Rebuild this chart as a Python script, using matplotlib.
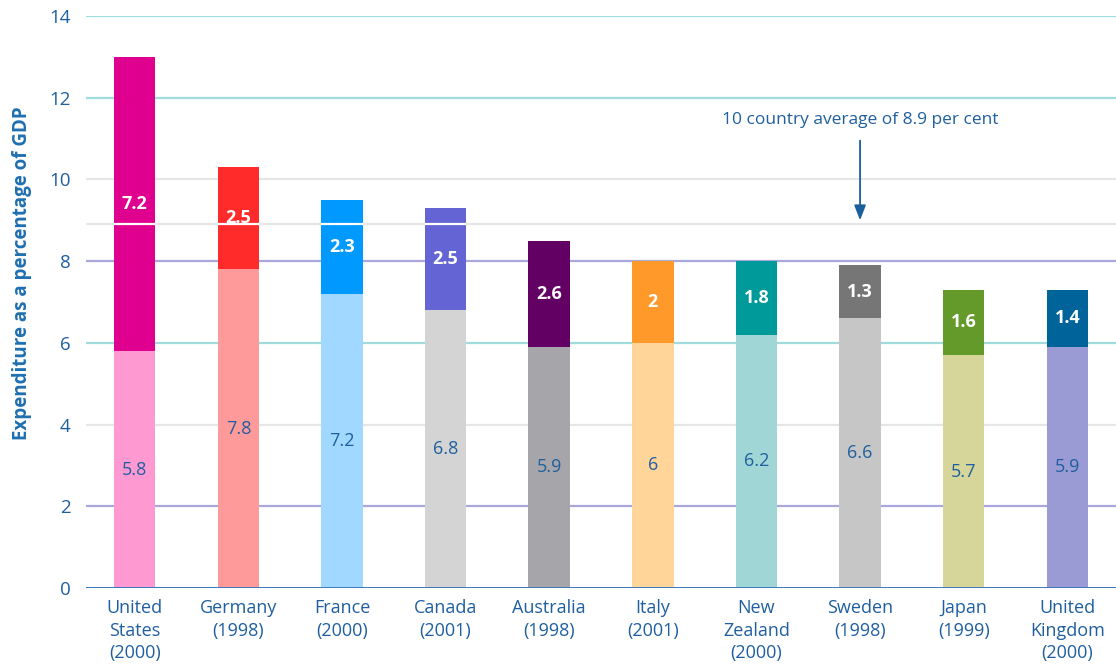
import matplotlib
matplotlib.use("Agg")
import matplotlib.pyplot as plt
import numpy as np

countries = ["United\nStates\n(2000)", "Germany\n(1998)", "France\n(2000)", "Canada\n(2001)",
             "Australia\n(1998)", "Italy\n(2001)", "New\nZealand\n(2000)", "Sweden\n(1998)",
             "Japan\n(1999)", "United\nKingdom\n(2000)"]
lower_values = [5.8, 7.8, 7.2, 6.8, 5.9, 6, 6.2, 6.6, 5.7, 5.9]
upper_values = [7.2, 2.5, 2.3, 2.5, 2.6, 2, 1.8, 1.3, 1.6, 1.4]
lower_colors = ["#FF99D1", "#FF9A9A", "#A0D8FF", "#D4D4D4", "#A6A6AA",
                "#FFD59A", "#A0D6D6", "#C6C6C6", "#D6D69A", "#9A9AD4"]
upper_colors = ["#E0008F", "#FF2A2A", "#0099FF", "#6464D4", "#630063",
                "#FF9A2A", "#009A9A", "#767676", "#649A2A", "#00649A"]
average = 8.9
avg_label = "10 country average of 8.9 per cent"
yticks = [0, 2, 4, 6, 8, 10, 12, 14]
grid_colors = {2: "#A8A8DC", 4: "#E6E6E6", 6: "#A0DCDC", 8: "#A8A8DC",
               10: "#E6E6E6", 12: "#A0DCDC", 14: "#A0DCDC"}

FONT = "Open Sans"
BLUE = "#1F5F9F"

fig = plt.figure(figsize=(11.16, 6.71), dpi=100)
ax = fig.add_axes([86/1116, 83/671, 1 - 86/1116, (655-83)/671])

x = np.arange(len(countries))
w = 0.40
lower = np.array(lower_values)
upper = np.array(upper_values)
total = lower + upper

for yv, c in grid_colors.items():
    ax.axhline(yv, color=c, lw=1.6, zorder=0)
ax.axhline(average, color="#E6E6E6", lw=1.6, zorder=0)

ax.bar(x, lower, width=w, color=lower_colors, zorder=2)
ax.bar(x, upper, width=w, bottom=lower, color=upper_colors, zorder=2)

# white average line crossing the bars that exceed it
over = total > average
ax.hlines([average] * int(over.sum()), x[over] - w / 2, x[over] + w / 2,
          color="white", lw=1.6, zorder=3)

ax.axhline(0, color="#3A7AC0", lw=1.4, zorder=4)

for xi, lo, up in zip(x, lower, upper):
    ax.text(xi, lo / 2, f"{lo:g}", ha="center", va="center", color=BLUE,
            fontsize=13, family=FONT, zorder=5)
    ax.text(xi, lo + up / 2, f"{up:g}", ha="center", va="center", color="white",
            fontsize=13, family=FONT, fontweight="bold", zorder=5)

ax.annotate("", xy=(7, 9.0), xytext=(7, 10.95),
            arrowprops=dict(arrowstyle="-|>,head_length=0.9,head_width=0.35",
                            color="#1A5F9A", lw=1.3, shrinkA=0, shrinkB=0), zorder=6)
ax.text(7, 11.45, avg_label, ha="center", va="center", color=BLUE,
        fontsize=12.5, family=FONT)

ax.set_xlim(-0.47, 9.47)
ax.set_ylim(0, 14)
ax.set_yticks(yticks)
ax.set_yticklabels([str(t) for t in yticks], family=FONT, fontsize=13.5, color=BLUE)
ax.set_xticks(x)
ax.set_xticklabels(countries, family=FONT, fontsize=13, color=BLUE, linespacing=1.32)
ax.tick_params(axis="both", length=0)
ax.tick_params(axis="y", pad=11)
ax.tick_params(axis="x", pad=8)
for s in ax.spines.values():
    s.set_visible(False)

fig.text(22/1116, 1 - 273/671, "Expenditure as a percentage of GDP", rotation=90,
         ha="center", va="center", color="#1F6FAF", fontsize=13.5, family=FONT,
         fontweight="bold")

fig.savefig("out.png", dpi=100)
